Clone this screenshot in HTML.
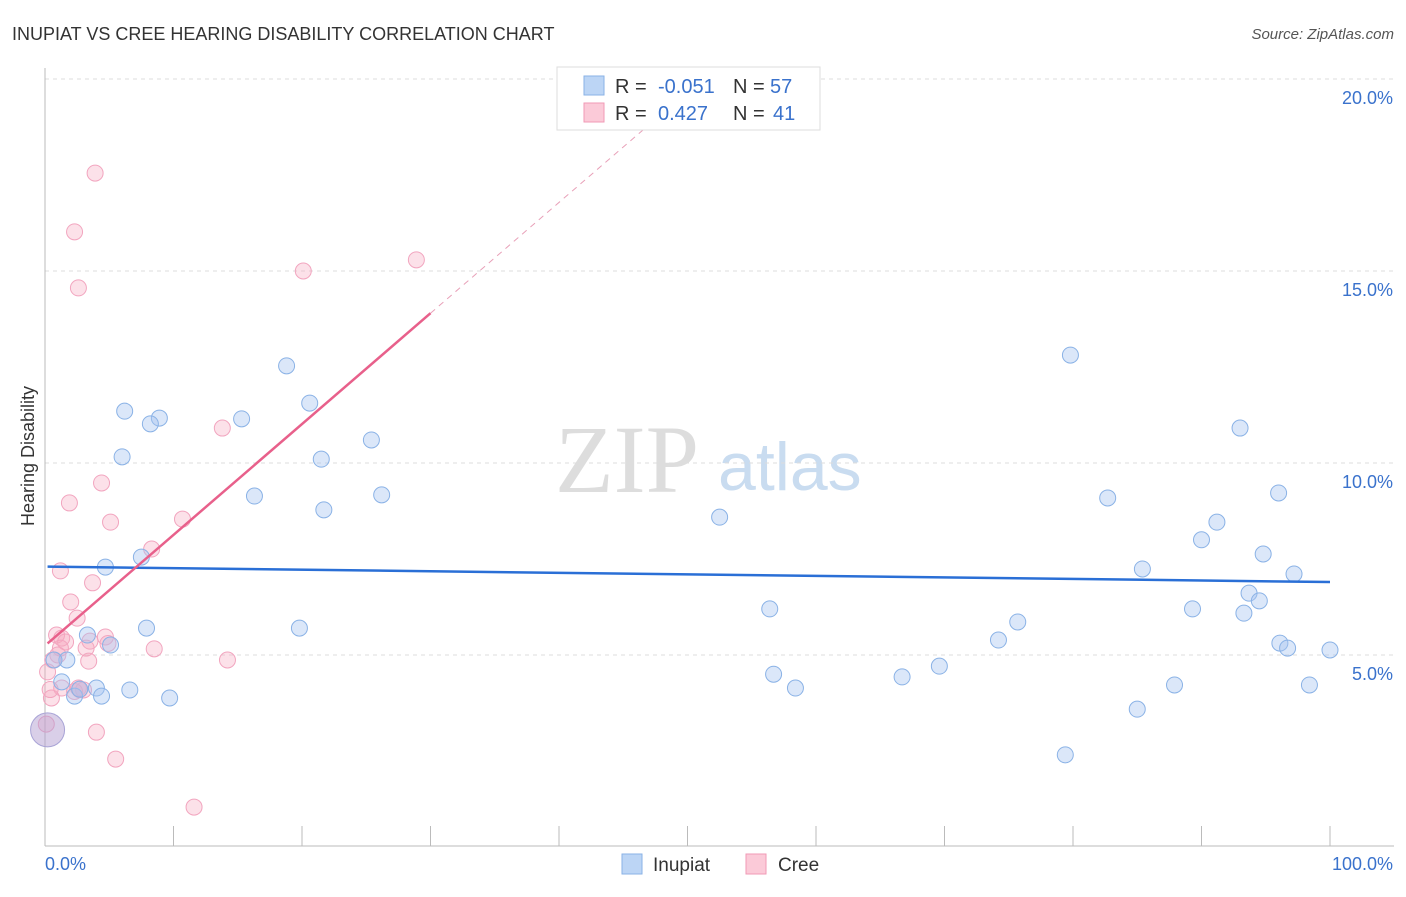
<!DOCTYPE html>
<html><head><meta charset="utf-8"><style>
body{margin:0;background:#fff;font-family:"Liberation Sans",sans-serif;}
svg text{font-family:"Liberation Sans",sans-serif;}
</style></head><body>
<svg id="c" width="1406" height="892" xmlns="http://www.w3.org/2000/svg">
<text x="12" y="40" font-size="18" fill="#333">INUPIAT VS CREE HEARING DISABILITY CORRELATION CHART</text>
<text x="1394" y="39" font-size="15" fill="#555" font-style="italic" text-anchor="end">Source: ZipAtlas.com</text>
<text x="555" y="492" font-size="96" fill="#ddd" font-family="Liberation Serif" style="font-family:'Liberation Serif',serif">ZIP</text>
<text x="718" y="490" font-size="68" fill="#c9dcf0">atlas</text>
<text transform="translate(34,456) rotate(-90)" font-size="18" fill="#333" text-anchor="middle">Hearing Disability</text>
<g id="grid"></g><g id="pts"></g><g id="lines"></g>
<g>
<rect x="557" y="67" width="263" height="63" fill="#fff" stroke="#ddd"/>
<rect x="584" y="76" width="20" height="19" fill="#bcd5f5" stroke="#8ab2e6"/>
<rect x="584" y="103" width="20" height="19" fill="#fbcad8" stroke="#f09ab6"/>
<text x="615" y="93" font-size="20" fill="#333">R = </text><text x="658" y="93" font-size="20" fill="#3a72cc">-0.051</text>
<text x="733" y="93" font-size="20" fill="#333">N = </text><text x="770" y="93" font-size="20" fill="#3a72cc">57</text>
<text x="615" y="120" font-size="20" fill="#333">R = </text><text x="658" y="120" font-size="20" fill="#3a72cc">0.427</text>
<text x="733" y="120" font-size="20" fill="#333">N = </text><text x="773" y="120" font-size="20" fill="#3a72cc">41</text>
</g>
<g>
<rect x="622" y="854" width="20" height="20" fill="#bcd5f5" stroke="#8ab2e6"/>
<text x="653" y="871" font-size="19" fill="#333">Inupiat</text>
<rect x="746" y="854" width="20" height="20" fill="#fbcad8" stroke="#f09ab6"/>
<text x="778" y="871" font-size="19" fill="#333">Cree</text>
</g>
</svg>
<script>
const blueX=[47.1,6.2,8.9,8.2,15.3,18.8,20.6,6.0,21.5,25.4,16.3,26.2,21.7,4.7,7.5,7.9,3.3,5.1,1.7,0.7,1.3,2.3,2.7,4.0,4.4,6.6,9.7,19.8,52.5,56.4,56.7,58.4,66.7,69.6,74.2,75.7,79.8,82.7,85.4,79.4,85.0,87.9,89.3,90.0,91.2,93.0,96.0,94.8,93.7,94.5,93.3,97.2,96.1,96.7,98.4,100];
const blueY=[19.6,11.35,11.17,11.02,11.15,12.53,11.56,10.16,10.1,10.6,9.14,9.17,8.78,7.29,7.55,5.7,5.52,5.26,4.87,4.87,4.3,3.93,4.11,4.14,3.93,4.09,3.88,5.7,8.59,6.2,4.5,4.14,4.43,4.71,5.39,5.86,12.81,9.09,7.24,2.4,3.59,4.22,6.2,8.0,8.46,10.91,9.22,7.63,6.61,6.41,6.09,7.11,5.31,5.18,4.22,5.13];
const pinkX=[3.9,2.3,2.6,20.1,28.9,13.8,4.4,1.9,5.1,10.7,8.3,1.2,3.7,2.0,2.5,0.9,1.3,1.6,3.5,4.7,1.2,3.2,8.5,0.6,3.4,14.2,0.2,1.3,2.6,3.0,0.5,4.0,5.5,11.6,0.4,2.3,4.9,1.0,2.7,0.1];
const pinkY=[17.55,16.02,14.56,15.0,15.29,10.91,9.48,8.96,8.46,8.54,7.76,7.19,6.88,6.38,5.96,5.52,5.44,5.34,5.36,5.47,5.18,5.18,5.16,4.87,4.84,4.87,4.56,4.14,4.14,4.09,3.88,2.99,2.29,1.04,4.1,4.05,5.3,5.0,4.1,3.2];
const yTicks=[5,10,15,20];
const yTickLabels=["5.0%","10.0%","15.0%","20.0%"];
const xTicks=[0,10,20,30,40,50,60,70,80,90,100];
const blueTrend=[7.3,6.9];
const pinkTrend=[5.3,13.9,30];
const X=v=>45+v*12.85, Y=v=>847-v*38.4;
const NS="http://www.w3.org/2000/svg";
function mk(t,a,p){const e=document.createElementNS(NS,t);for(const k in a)e.setAttribute(k,a[k]);p.appendChild(e);return e;}
const g=document.getElementById('grid');
yTicks.forEach((t,i)=>{
 const l=mk('line',{x1:45,x2:1394,y1:Y(t),y2:Y(t),stroke:'#ddd','stroke-dasharray':'4,4'},g);
 
 
 const tx=mk('text',{x:1393,y:Y(t)+25,'font-size':18,fill:'#3a72cc','text-anchor':'end'},g);
 tx.textContent=yTickLabels[i];
 
 
});
mk('line',{x1:45,x2:1394,y1:Y(20)-0,y2:Y(20),stroke:'#ddd','stroke-dasharray':'4,4'},g);
mk('line',{x1:45,x2:45,y1:68,y2:846,stroke:'#bbb'},g);
mk('line',{x1:45,x2:1394,y1:846,y2:846,stroke:'#bbb'},g);
xTicks.forEach(t=>{const l=mk('line',{x1:X(t),x2:X(t),y1:826,y2:846,stroke:'#bbb'},g);
 
 });
let a=mk('text',{x:45,y:870,'font-size':18,fill:'#3a72cc'},g);a.textContent='0.0%';


a=mk('text',{x:1393,y:870,'font-size':18,fill:'#3a72cc','text-anchor':'end'},g);a.textContent='100.0%';


const p=document.getElementById('pts');
pinkX.forEach((x,i)=>{const c=mk('circle',{cx:X(x),cy:Y(pinkY[i]),r:8,fill:'rgba(247,168,193,0.35)',stroke:'#f2a5bf','stroke-width':1},p);
 
 });
blueX.forEach((x,i)=>{const c=mk('circle',{cx:X(x),cy:Y(blueY[i]),r:8,fill:'rgba(164,196,240,0.4)',stroke:'#8ab2e6','stroke-width':1},p);
 
 });
const big=mk('circle',{cx:X(0.2),cy:Y(3.05),r:17,fill:'rgba(180,160,210,0.5)',stroke:'#a9a4d6'},p);


const L=document.getElementById('lines');
let l=mk('line',{x1:X(0.2),y1:Y(blueTrend[0]),x2:X(100),y2:Y(blueTrend[1]),stroke:'#2a6fd6','stroke-width':2.5},L);


l=mk('line',{x1:X(0.2),y1:Y(pinkTrend[0]),x2:X(30),y2:Y(pinkTrend[1]),stroke:'#e8608b','stroke-width':2.5},L);


const slope=(pinkTrend[1]-pinkTrend[0])/29.8;
const xe=30+(20-pinkTrend[1])/slope;
l=mk('line',{x1:X(30),y1:Y(pinkTrend[1]),x2:X(xe),y2:Y(20),stroke:'#e8a0b8','stroke-width':1,'stroke-dasharray':'6,5'},L);


</script>
</body></html>
